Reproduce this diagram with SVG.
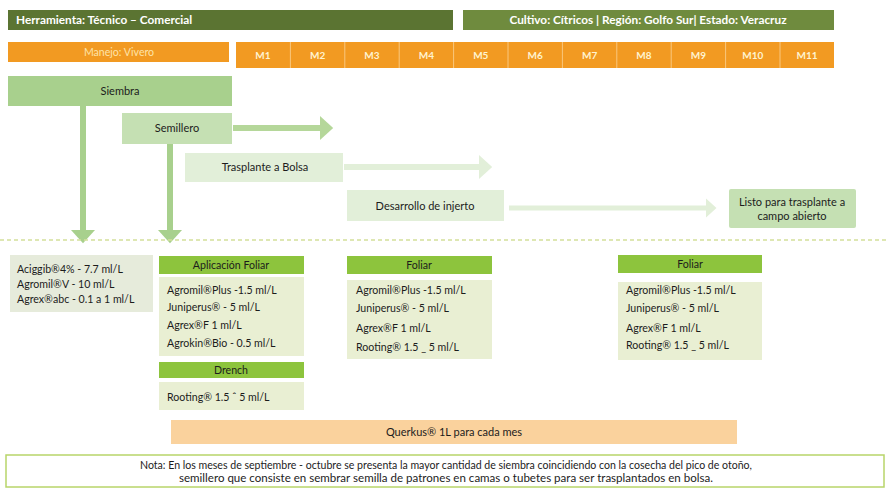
<svg xmlns="http://www.w3.org/2000/svg" width="888" height="494" viewBox="0 0 888 494">
<defs>
<style>
text{font-family:Lato,"Open Sans","Liberation Sans",sans-serif;fill:#1c1c1c;font-size:10.6px}
.hd{fill:#fff;font-weight:bold;font-size:11.8px}
.mo{fill:#fff3d0;font-weight:bold;font-size:10px;text-anchor:middle}
.c{text-anchor:middle}
.n{font-size:11px}
.orange{fill:#f29a22}
.fhead{fill:#8dc43d}
.fbox{fill:#e9efd3}
</style>
<marker id="ahA" markerWidth="4" markerHeight="4" refX="1.5" refY="2" orient="auto" markerUnits="strokeWidth"><path d="M0,0 L2.2,2 L0,4 Z" fill="#b5d79a"/></marker>
<marker id="ahV" markerWidth="4" markerHeight="4" refX="1.5" refY="2" orient="auto" markerUnits="strokeWidth"><path d="M0,0 L2.2,2 L0,4 Z" fill="#a8d08d"/></marker>
<marker id="ahP" markerWidth="4" markerHeight="4" refX="1.5" refY="2" orient="auto" markerUnits="strokeWidth"><path d="M0,0 L2.2,2 L0,4 Z" fill="#e2efd9"/></marker>
</defs>
<rect width="888" height="494" fill="#fff"/>

<g id="header-tool">
<rect x="8" y="10" width="445" height="20" fill="#5b7432"/>
<text class="hd" x="16" y="24">Herramienta: Técnico – Comercial</text>
</g>
<g id="header-crop">
<rect x="463" y="10" width="371" height="20" fill="#6f8b3e"/>
<text class="hd c" x="648" y="24">Cultivo: Cítricos | Región: Golfo Sur| Estado: Veracruz</text>
</g>

<g id="manejo">
<rect class="orange" x="8" y="42" width="221" height="20"/>
<text class="c" x="119" y="55.5" style="fill:#fde3a8">Manejo: Vivero</text>
</g>

<g id="months">
<rect class="orange" x="236" y="42" width="598" height="26"/>
<g stroke="#f9c77e" stroke-width="1">
<line x1="290.4" y1="42" x2="290.4" y2="68"/><line x1="344.8" y1="42" x2="344.8" y2="68"/><line x1="399.2" y1="42" x2="399.2" y2="68"/><line x1="453.6" y1="42" x2="453.6" y2="68"/><line x1="508" y1="42" x2="508" y2="68"/><line x1="562.4" y1="42" x2="562.4" y2="68"/><line x1="616.8" y1="42" x2="616.8" y2="68"/><line x1="671.2" y1="42" x2="671.2" y2="68"/><line x1="725.6" y1="42" x2="725.6" y2="68"/><line x1="780" y1="42" x2="780" y2="68"/>
</g>
<text class="mo" x="263" y="59">M1</text>
<text class="mo" x="317.6" y="59">M2</text>
<text class="mo" x="372" y="59">M3</text>
<text class="mo" x="426.4" y="59">M4</text>
<text class="mo" x="480.8" y="59">M5</text>
<text class="mo" x="535.2" y="59">M6</text>
<text class="mo" x="589.6" y="59">M7</text>
<text class="mo" x="644" y="59">M8</text>
<text class="mo" x="698.4" y="59">M9</text>
<text class="mo" x="752.8" y="59">M10</text>
<text class="mo" x="807" y="59">M11</text>
</g>

<g id="connectors">
<line x1="83" y1="106" x2="83" y2="239" stroke="#a8d08d" stroke-width="6" marker-end="url(#ahV)"/>
<line x1="170" y1="144" x2="170" y2="239" stroke="#a8d08d" stroke-width="6" marker-end="url(#ahV)"/>
<line x1="233" y1="128" x2="329" y2="128" stroke="#b5d79a" stroke-width="6" marker-end="url(#ahA)"/>
<line x1="344" y1="167" x2="488" y2="167" stroke="#e2efd9" stroke-width="6" marker-end="url(#ahP)"/>
<line x1="509" y1="208" x2="713" y2="208" stroke="#e2efd9" stroke-width="5" marker-end="url(#ahP)"/>
</g>

<g id="siembra">
<rect x="8" y="76" width="224" height="30" fill="#a8d08d"/>
<text class="c n" x="120" y="95">Siembra</text>
</g>
<g id="semillero">
<rect x="122" y="113" width="110" height="31" fill="#c5e0b3"/>
<text class="c n" x="177" y="132">Semillero</text>
</g>
<g id="trasplante">
<rect x="185" y="153" width="158" height="29" fill="#e2efd9"/>
<text class="c n" x="265" y="171">Trasplante a Bolsa</text>
</g>
<g id="injerto">
<rect x="347" y="190" width="157" height="31" fill="#e2efd9"/>
<text class="c n" x="425" y="210">Desarrollo de injerto</text>
</g>
<g id="listo">
<rect x="729" y="189" width="127" height="39" fill="#c5e0b3" rx="2"/>
<text class="c n" x="792" y="206">Listo para trasplante a</text>
<text class="c n" x="792" y="219.5">campo abierto</text>
</g>

<line id="divider" x1="0" y1="240" x2="888" y2="240" stroke="#d3df9a" stroke-width="1.5" stroke-dasharray="4 3"/>

<g id="box-siembra">
<rect x="10" y="255" width="143" height="57" fill="#e6ebdb"/>
<text x="17" y="273">Aciggib®4% - 7.7 ml/L</text>
<text x="17" y="288">Agromil®V - 10 ml/L</text>
<text x="17" y="303">Agrex®abc - 0.1 a 1 ml/L</text>
</g>

<g id="foliar-1">
<rect class="fhead" x="159" y="256" width="145" height="18"/>
<text class="c" x="231" y="269">Aplicación Foliar</text>
<rect class="fbox" x="159" y="277" width="145" height="79"/>
<text x="167" y="294">Agromil®Plus -1.5 ml/L</text>
<text x="167" y="311">Juniperus® - 5 ml/L</text>
<text x="167" y="329">Agrex®F 1 ml/L</text>
<text x="167" y="347">Agrokin®Bio - 0.5 ml/L</text>
</g>
<g id="drench">
<rect class="fhead" x="159" y="362" width="145" height="16"/>
<text class="c" x="231" y="374">Drench</text>
<rect class="fbox" x="159" y="382" width="145" height="28"/>
<text x="167" y="401">Rooting® 1.5 ˆ 5 ml/L</text>
</g>

<g id="foliar-2">
<rect class="fhead" x="347" y="256" width="145" height="18"/>
<text class="c" x="419" y="269">Foliar</text>
<rect class="fbox" x="347" y="280" width="145" height="79"/>
<text x="356" y="294">Agromil®Plus -1.5 ml/L</text>
<text x="356" y="312">Juniperus® - 5 ml/L</text>
<text x="356" y="332">Agrex®F 1 ml/L</text>
<text x="356" y="351">Rooting® 1.5 _ 5 ml/L</text>
</g>

<g id="foliar-3">
<rect class="fhead" x="618" y="255" width="144" height="18"/>
<text class="c" x="690" y="268">Foliar</text>
<rect class="fbox" x="618" y="282" width="144" height="78"/>
<text x="626" y="294">Agromil®Plus -1.5 ml/L</text>
<text x="626" y="312">Juniperus® - 5 ml/L</text>
<text x="626" y="332">Agrex®F 1 ml/L</text>
<text x="626" y="349">Rooting® 1.5 _ 5 ml/L</text>
</g>

<g id="querkus">
<rect x="171" y="420" width="566" height="24" fill="#fad29d"/>
<text class="c n" x="454" y="436">Querkus® 1L para cada mes</text>
</g>

<g id="nota">
<rect x="6" y="455" width="878" height="32" fill="#fff" stroke="#b8d56a" stroke-width="1.5"/>
<text class="c" x="446" y="469" font-size="9.5" textLength="612" lengthAdjust="spacingAndGlyphs">Nota: En los meses de septiembre - octubre se presenta la mayor cantidad de siembra coincidiendo con la cosecha del pico de otoño,</text>
<text class="c" x="446" y="482" font-size="9.5" textLength="534" lengthAdjust="spacingAndGlyphs">semillero que consiste en sembrar semilla de patrones en camas o tubetes para ser trasplantados en bolsa.</text>
</g>
</svg>
